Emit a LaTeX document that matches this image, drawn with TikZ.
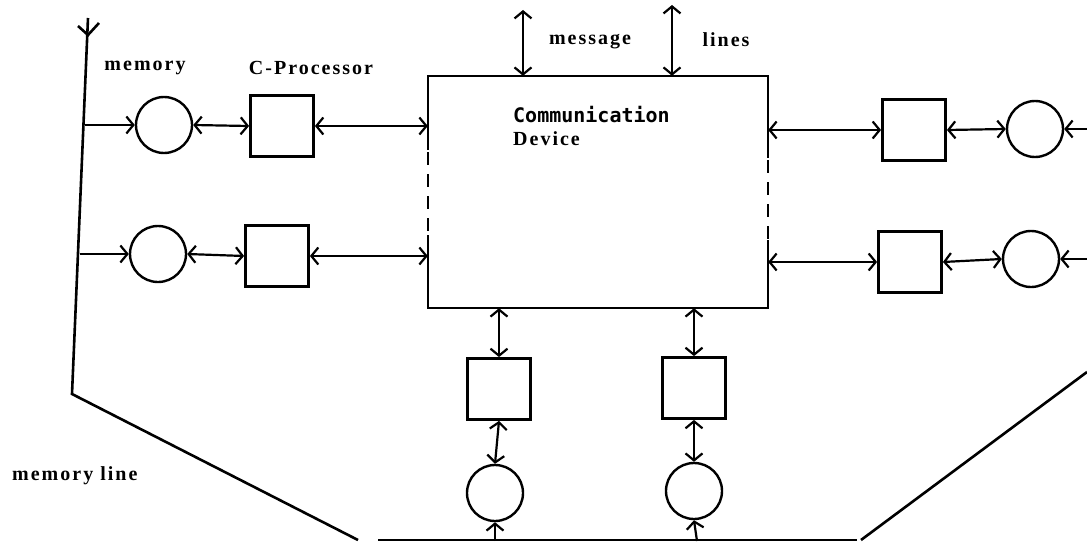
\documentclass[tikz,border=0pt]{standalone}
\usepackage{fontspec}
\usetikzlibrary{arrows.meta,calc}
\newfontfamily\lblfont[LetterSpace=10]{Liberation Serif}
\newfontfamily\devfont{DejaVu Sans Mono}
\tikzset{
  mem/.style={circle, draw, line width=2.4pt, minimum size=56pt, inner sep=0pt},
  proc/.style={rectangle, draw, line width=2.8pt, minimum width=63pt, minimum height=61pt, inner sep=0pt},
  barb/.tip={Straight Barb[length=7pt,width=17pt,line width=2.2pt]},
  link/.style={line width=2.2pt, barb-barb},
  feed/.style={line width=2.2pt, -barb},
  wire/.style={line width=2.6pt},
  boxline/.style={line width=2.8pt},
  lbl/.style={font=\lblfont\bfseries\fontsize{20}{22}\selectfont, inner sep=0pt},
  devtxt/.style={font=\devfont\bfseries\fontsize{20}{24}\selectfont, inner sep=0pt}
}
\begin{document}
\begin{tikzpicture}[x=1pt,y=-1pt]
\useasboundingbox (0,0) rectangle (1087,543);
% communication device
\node (dev) [minimum width=340pt, minimum height=232pt, inner sep=0pt] at (598,192) {};
\draw[boxline] (428,150) -- (428,76) -- (768,76) -- (768,158);
\draw[boxline] (768,240) -- (768,308) -- (428,308) -- (428,235);
\draw[boxline, dash pattern=on 13pt off 9pt] (428,152) -- (428,235);
\draw[boxline, dash pattern=on 13pt off 9pt] (768,160) -- (768,240);
\node[devtxt, anchor=west] (commtxt) at (513,115) {Communication};
\node[lbl, anchor=west] (devicetxt) at (513,139) {Device};
% left rows
\node[mem] (L1c) at (164,125) {};
\node[proc] (L1s) at (282,126) {};
\node[mem] (L2c) at (158,254) {};
\node[proc] (L2s) at (277,256) {};
% right rows
\node[proc] (R1s) at (914,130) {};
\node[mem] (R1c) at (1035,129) {};
\node[proc] (R2s) at (910,262) {};
\node[mem] (R2c) at (1031,259) {};
% bottom columns
\node[proc] (B1s) at (499,389) {};
\node[mem] (B1c) at (495,493) {};
\node[proc] (B2s) at (694,388) {};
\node[mem] (B2c) at (694,491) {};
% memory line
\coordinate (m0) at (88,18);
\coordinate (m1) at (72,394);
\coordinate (m2) at (358,540);
\coordinate (m3) at (378,540);
\coordinate (m4) at (857,540);
\coordinate (m5) at (861,540);
\coordinate (m6) at (1087,372);
\draw[wire] (m0) -- (m1) -- (m2);
\draw[wire] (m3) -- (m4);
\draw[wire] (m5) -- (m6);
\draw[wire] (78,26) -- (88,35) -- (99,23);
% feeds from memory line
\coordinate (f1) at (85,125);
\coordinate (f2) at (80,254);
\coordinate (f3) at (1087,129);
\coordinate (f4) at (1087,259);
\coordinate (f5) at (495,541);
\coordinate (f6) at (697,541);
\draw[feed] (f1) -- (L1c.west);
\draw[feed] (f2) -- (L2c.west);
\draw[feed] (f3) -- (R1c.east);
\draw[feed] (f4) -- (R2c.east);
\draw[feed] (f5) -- (B1c.south);
\draw[feed] (f6) -- (B2c.south);
% links
\draw[link] (L1c.east) -- (L1s.west);
\draw[link] (L1s.east) -- (L1s.east -| dev.west);
\draw[link] (L2c.east) -- (L2s.west);
\draw[link] (L2s.east) -- (L2s.east -| dev.west);
\draw[link] (R1s.west -| dev.east) -- (R1s.west);
\draw[link] (R1s.east) -- (R1c.west);
\draw[link] (R2s.west -| dev.east) -- (R2s.west);
\draw[link] (R2s.east) -- (R2c.west);
\draw[link] (B1s.north |- dev.south) -- (B1s.north);
\draw[link] (B1s.south) -- (B1c.north);
\draw[link] (B2s.north |- dev.south) -- (B2s.north);
\draw[link] (B2s.south) -- (B2c.north);
% message lines
\coordinate (t1) at (523,10);
\coordinate (t2) at (672,5);
\draw[link] (t1) -- (t1 |- dev.north);
\draw[link] (t2) -- (t2 |- dev.north);
% labels
\node[lbl] (memlbl) at (145,68) {memory};
\node[lbl] (cplbl) at (311,68) {C-Processor};
\node[lbl] (msglbl) at (590,42) {message};
\node[lbl] (lineslbl) at (726,40) {lines};
\node[lbl, anchor=west] (mllbl) at (12,476) {memory line};
\end{tikzpicture}
\end{document}
